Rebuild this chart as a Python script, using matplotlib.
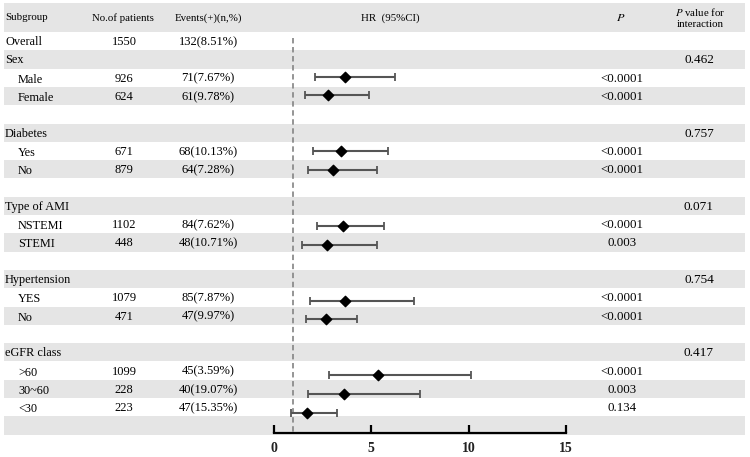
import matplotlib
matplotlib.use("Agg")
import matplotlib.pyplot as plt

plt.rcParams["font.family"] = ["Liberation Serif", "DejaVu Serif"]
plt.rcParams["mathtext.fontset"] = "stix"

# table rows (empty strings are spacer rows)
subgroups = ["Overall", "Sex", "Male", "Female", "",
             "Diabetes", "Yes", "No", "",
             "Type of AMI", "NSTEMI", "STEMI", "",
             "Hypertension", "YES", "No", "",
             "eGFR class", ">60", "30~60", "<30", ""]
indented = [False, False, True, True, False,
            False, True, True, False,
            False, True, True, False,
            False, True, True, False,
            False, True, True, True, False]
n_patients = ["1550", "", "926", "624", "",
              "", "671", "879", "",
              "", "1102", "448", "",
              "", "1079", "471", "",
              "", "1099", "228", "223", ""]
events = ["132(8.51%)", "", "71(7.67%)", "61(9.78%)", "",
          "", "68(10.13%)", "64(7.28%)", "",
          "", "84(7.62%)", "48(10.71%)", "",
          "", "85(7.87%)", "47(9.97%)", "",
          "", "45(3.59%)", "40(19.07%)", "47(15.35%)", ""]
p_values = ["", "", "<0.0001", "<0.0001", "",
            "", "<0.0001", "<0.0001", "",
            "", "<0.0001", "0.003", "",
            "", "<0.0001", "<0.0001", "",
            "", "<0.0001", "0.003", "0.134", ""]
p_interaction = ["", "0.462", "", "", "",
                 "0.757", "", "", "",
                 "0.071", "", "", "",
                 "0.754", "", "", "",
                 "0.417", "", "", "", ""]

# forest plot values (row index, HR, lower, upper)
hr_rows = [2, 3, 6, 7, 10, 11, 14, 15, 18, 19, 20]
hr = [3.63, 2.79, 3.42, 3.01, 3.53, 2.74, 3.65, 2.65, 5.36, 3.60, 1.68]
hr_low = [2.11, 1.59, 2.02, 1.73, 2.21, 1.42, 1.85, 1.64, 2.84, 1.76, 0.87]
hr_high = [6.21, 4.88, 5.84, 5.31, 5.67, 5.31, 7.19, 4.25, 10.10, 7.50, 3.22]
x_ticks = [0, 5, 10, 15]

W, H = 750, 457
fig = plt.figure(figsize=(W / 100, H / 100), dpi=100)

# background axes in pixel units for stripes and table text
bg = fig.add_axes([0, 0, 1, 1])
bg.set_xlim(0, W)
bg.set_ylim(H, 0)
bg.axis("off")

head_top, head_bot = 3, 32
row_h = 18.3
n_rows = len(subgroups)
stripe = "#e5e5e5"
x0, x1 = 4, 745


def row_y(r):
    return head_bot + (r + 0.5) * row_h


# header stripe
bg.fill_between([x0, x1], head_top, head_bot, color=stripe, lw=0)
for r in range(n_rows):
    if r % 2 == 1:
        bg.fill_between([x0, x1], row_y(r) - row_h / 2, row_y(r) + row_h / 2,
                        color=stripe, lw=0)

hs = 7.8
hy = 18
bg.text(5, hy, "Subgroup", fontsize=hs, va="center", ha="left")
bg.text(123, hy, "No.of patients", fontsize=hs, va="center", ha="center")
bg.text(208, hy, "Events(+)(n,%)", fontsize=hs, va="center", ha="center")
bg.text(390, hy, "HR  (95%CI)", fontsize=hs, va="center", ha="center")
bg.text(621, hy, "$P$", fontsize=hs + 1, va="center", ha="center")
bg.text(700, 11.5, "$P$ value for", fontsize=hs, va="center", ha="center")
bg.text(700, 24.5, "interaction", fontsize=hs, va="center", ha="center")

for r in range(n_rows):
    y = row_y(r) + 1
    if subgroups[r]:
        if indented[r]:
            bg.text(18, y + 1, subgroups[r], fontsize=8.8, va="center", ha="left")
        else:
            bg.text(5, y, subgroups[r], fontsize=8.8, va="center", ha="left")
    bg.text(124, y, n_patients[r], fontsize=9, va="center", ha="center")
    bg.text(208, y, events[r], fontsize=9, va="center", ha="center")
    bg.text(622, y, p_values[r], fontsize=9.3, va="center", ha="center")
    bg.text(699, y, p_interaction[r], fontsize=9.5, va="center", ha="center")

# forest plot axes
ax_l, ax_r, ax_b = 274, 566, 433.3
ax = fig.add_axes([ax_l / W, (H - ax_b) / H, (ax_r - ax_l) / W, (ax_b - head_bot) / H])
ax.patch.set_alpha(0)
ax.set_xlim(0, 15)
ax.set_ylim((ax_b - head_bot) / row_h - 0.5, -0.5)
for s in ["top", "right", "left"]:
    ax.spines[s].set_visible(False)
ax.spines["bottom"].set_linewidth(1.6)
ax.set_yticks([])
ax.set_xticks(x_ticks)
ax.tick_params(axis="x", direction="in", length=6, width=1.6, pad=6)
for lab in ax.get_xticklabels():
    lab.set_fontweight("bold")
    lab.set_fontsize(10)
    lab.set_color("#222222")

ax.vlines(1, -0.15, (ax_b - head_bot) / row_h - 0.5, colors="#8c8c8c",
          linestyles=(0, (3, 2)), lw=1.3)

# marks sit a little off the stripe centres in the original, drifting downwards
yy = [(39.4 + 18.67 * r - head_bot) / row_h - 0.5 for r in hr_rows]
err = [[h - lo for h, lo in zip(hr, hr_low)], [hi - h for h, hi in zip(hr, hr_high)]]
ax.errorbar(hr, yy, xerr=err, fmt="none", ecolor="#555555", elinewidth=1.5,
            capsize=3, capthick=1.3)
ax.scatter(hr, yy, marker="D", s=28, color="black", zorder=3)

fig.savefig("out.png", dpi=100)
